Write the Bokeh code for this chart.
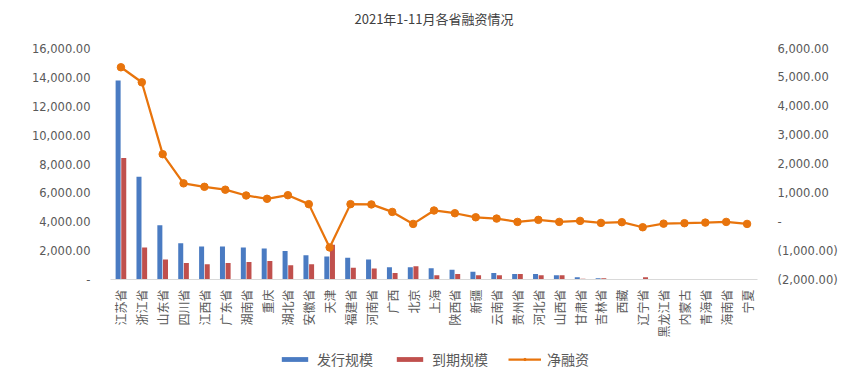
import math
from bokeh.plotting import figure
from bokeh.layouts import column
from bokeh.models import (ColumnDataSource, FactorRange, Range1d, LinearAxis,
                          FixedTicker, Legend, LegendItem, Title)
from bokeh.transform import dodge
from bokeh.embed import file_html
from bokeh.resources import INLINE

title_text = "2021年1-11月各省融资情况"

provinces = ["江苏省", "浙江省", "山东省", "四川省", "江西省", "广东省", "湖南省", "重庆",
             "湖北省", "安徽省", "天津", "福建省", "河南省", "广西", "北京", "上海",
             "陕西省", "新疆", "云南省", "贵州省", "河北省", "山西省", "甘肃省", "吉林省",
             "西藏", "辽宁省", "黑龙江省", "内蒙古", "青海省", "海南省", "宁夏"]

issuance = [13790, 7120, 3760, 2510, 2280, 2280, 2210, 2140, 1980, 1680, 1590, 1510,
            1380, 850, 850, 780, 680, 540, 450, 380, 380, 290, 150, 80, 0, 0, 0, 0, 0, 0, 0]

maturity = [8420, 2210, 1380, 1150, 1050, 1150, 1220, 1290, 990, 1050, 2400, 820,
            770, 450, 920, 290, 380, 290, 290, 380, 290, 290, 50, 80, 0, 150, 0, 0, 0, 0, 0]

net_financing = [5350, 4830, 2340, 1330, 1210, 1110, 910, 795, 920, 610, -890, 610,
                 600, 340, -75, 390, 295, 155, 110, -5, 65, -5, 30, -40, -15, -190,
                 -65, -50, -30, -5, -75]

series_names = ["发行规模", "到期规模", "净融资"]

left_ticks = [0, 2000, 4000, 6000, 8000, 10000, 12000, 14000, 16000]
left_labels = ["-", "2,000.00", "4,000.00", "6,000.00", "8,000.00", "10,000.00",
               "12,000.00", "14,000.00", "16,000.00"]
right_ticks = [-2000, -1000, 0, 1000, 2000, 3000, 4000, 5000, 6000]
right_labels = ["(2,000.00)", "(1,000.00)", "-", "1,000.00", "2,000.00", "3,000.00",
                "4,000.00", "5,000.00", "6,000.00"]

FONT = "Noto Sans CJK SC"
TXT = "#595959"
BLUE = "#4A7BC2"
RED = "#C0504D"
ORANGE = "#E8740C"

source = ColumnDataSource(dict(x=provinces, issuance=issuance, maturity=maturity,
                               net=net_financing))

p = figure(width=858, height=345, x_range=FactorRange(factors=provinces),
           y_range=Range1d(0, 16000), output_backend="svg", toolbar_location=None,
           title=None, frame_width=647, frame_height=231,
           min_border_left=110, min_border_right=101, min_border_top=48,
           min_border_bottom=66)
p.extra_y_ranges = {"net": Range1d(-2000, 6000)}

# spacer between frame and title, then the title itself
spacer = Title(text=" ", text_font_size="1px", standoff=18)
p.add_layout(spacer, "above")
ttl = Title(text=title_text, align="center", text_font=FONT, text_font_size="13px",
            text_font_style="normal", text_color="#404040", standoff=0)
p.add_layout(ttl, "above")

b1 = p.vbar(x=dodge("x", -0.135, range=p.x_range), top="issuance", width=0.24,
            source=source, fill_color=BLUE, line_color=None)
b2 = p.vbar(x=dodge("x", 0.135, range=p.x_range), top="maturity", width=0.24,
            source=source, fill_color=RED, line_color=None)
ln = p.line(x="x", y="net", source=source, y_range_name="net", line_color=ORANGE,
            line_width=2.25)
sc = p.scatter(x="x", y="net", source=source, y_range_name="net", size=7.5,
               fill_color=ORANGE, line_color=ORANGE)

p.xgrid.grid_line_color = None
p.ygrid.grid_line_color = None
p.outline_line_color = None
p.background_fill_color = "white"
p.border_fill_color = "white"

# x axis
xa = p.xaxis[0]
xa.axis_line_color = "#D9D9D9"
xa.axis_line_width = 1
xa.major_tick_line_color = None
xa.minor_tick_line_color = None
xa.major_tick_out = 0
xa.major_tick_in = 0
xa.major_label_orientation = math.pi / 2
xa.major_label_text_font = FONT
xa.major_label_text_font_size = "12px"
xa.major_label_text_color = TXT
xa.major_label_standoff = 10

# left axis
ya = p.yaxis[0]
ya.ticker = FixedTicker(ticks=left_ticks)
ya.major_label_overrides = {t: l for t, l in zip(left_ticks, left_labels)}
ya.axis_line_color = None
ya.major_tick_line_color = None
ya.minor_tick_line_color = None
ya.major_tick_out = 0
ya.major_label_text_font = "DejaVu Sans"
ya.major_label_text_font_size = "11.5px"
ya.major_label_text_color = TXT
ya.major_label_standoff = 20

# right axis
ra = LinearAxis(y_range_name="net")
ra.ticker = FixedTicker(ticks=right_ticks)
ra.major_label_overrides = {t: l for t, l in zip(right_ticks, right_labels)}
ra.axis_line_color = None
ra.major_tick_line_color = None
ra.minor_tick_line_color = None
ra.major_tick_out = 0
ra.major_label_text_font = "DejaVu Sans"
ra.major_label_text_font_size = "11.5px"
ra.major_label_text_color = TXT
ra.major_label_standoff = 20
p.add_layout(ra, "right")

# legend strip below the chart: same series, drawn in a range where no data falls
lg = figure(width=858, height=27, x_range=FactorRange(factors=provinces),
            y_range=Range1d(1e6, 2e6), output_backend="svg", toolbar_location=None,
            x_axis_type=None, y_axis_type=None, min_border=0,
            frame_width=858, frame_height=27)
lg.extra_y_ranges = {"net": Range1d(1e6, 2e6)}
lg.xgrid.grid_line_color = None
lg.ygrid.grid_line_color = None
lg.outline_line_color = None
lb1 = lg.vbar(x="x", top="issuance", width=0.24, source=source,
              fill_color=BLUE, line_color=None)
lb2 = lg.vbar(x="x", top="maturity", width=0.24, source=source,
              fill_color=RED, line_color=None)
lln = lg.line(x="x", y="net", source=source, y_range_name="net", line_color=ORANGE,
              line_width=2.25)
lsc = lg.scatter(x="x", y="net", source=source, y_range_name="net", size=7.5,
                 fill_color=ORANGE, line_color=ORANGE)

legend = Legend(items=[LegendItem(label=series_names[0], renderers=[lb1]),
                       LegendItem(label=series_names[1], renderers=[lb2]),
                       LegendItem(label=series_names[2], renderers=[lln, lsc])],
                orientation="horizontal", location=(278, 3),
                glyph_width=33, glyph_height=6, label_standoff=6, spacing=20,
                label_height=20, label_text_font=FONT, label_text_font_size="14px",
                label_text_color=TXT, border_line_color=None,
                background_fill_alpha=0, padding=0, margin=0)
lg.add_layout(legend, "center")

layout = column(p, lg, spacing=0)
open("out.html", "w").write(file_html(layout, INLINE))
